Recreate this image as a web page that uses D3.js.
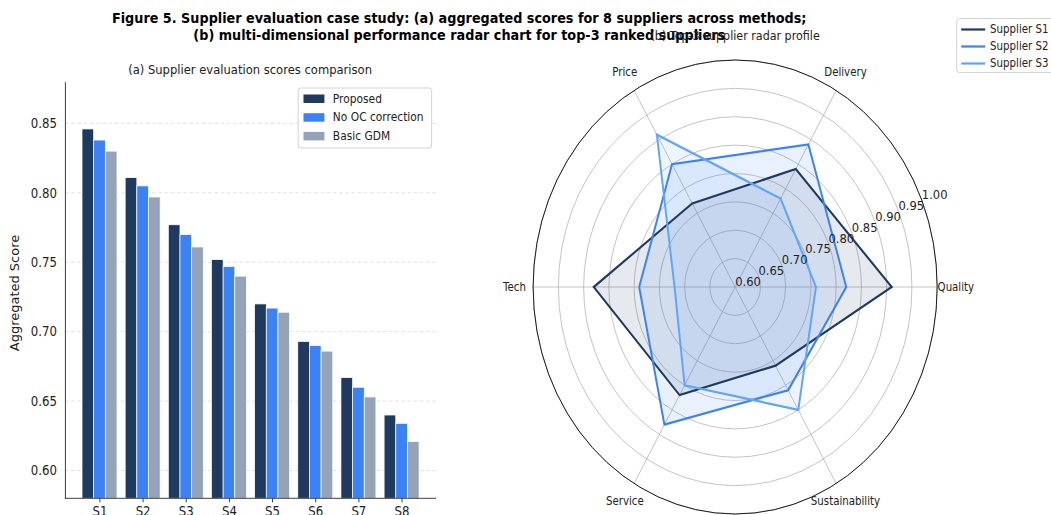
<!DOCTYPE html>
<html><head><meta charset="utf-8">
<script src="https://cdn.jsdelivr.net/npm/d3@7"></script>
<style>body{margin:0;background:#fff;} svg{display:block;font-family:"DejaVu Sans",sans-serif;}</style>
</head><body>
<script>
const suppliers = ["S1","S2","S3","S4","S5","S6","S7","S8"];
const methods = ["Proposed","No OC correction","Basic GDM"];
const proposed = [0.846,0.811,0.777,0.752,0.720,0.693,0.667,0.640];
const noOC     = [0.838,0.805,0.770,0.747,0.717,0.690,0.660,0.634];
const basicGDM = [0.830,0.797,0.761,0.740,0.714,0.686,0.653,0.621];
const yTicks = [0.60,0.65,0.70,0.75,0.80,0.85];

const criteria = ["Quality","Delivery","Price","Tech","Service","Sustainability"];
const supplierNames = ["Supplier S1","Supplier S2","Supplier S3"];
const s1 = [0.91,0.84,0.77,0.88,0.82,0.76];
const s2 = [0.82,0.89,0.85,0.79,0.88,0.81];
const s3 = [0.76,0.78,0.91,0.72,0.80,0.85];
const rTicks = [0.60,0.65,0.70,0.75,0.80,0.85,0.90,0.95,1.00];

const barColors = ["#1e3a5f","#3b82f6","#94a3b8"];
const radarColors = ["#1e3a5f","#3b82f6","#60a5fa"];

const W = 1051, H = 515, SX = 0.89;
const svg = d3.select("body").append("svg").attr("width",W).attr("height",H);
const root = svg.append("g").attr("transform",`scale(${SX},1)`);

// Title
root.append("text").attr("x",516).attr("y",23).attr("text-anchor","middle")
  .attr("font-size",14.4).attr("font-weight","bold")
  .text("Figure 5. Supplier evaluation case study: (a) aggregated scores for 8 suppliers across methods;");
root.append("text").attr("x",516).attr("y",40).attr("text-anchor","middle")
  .attr("font-size",14.4).attr("font-weight","bold")
  .text("(b) multi-dimensional performance radar chart for top-3 ranked suppliers");

// ---------- Bar chart ----------
const bx0 = 73, bx1 = 490, by0 = 498.3, by1 = 81.7;
const x = d3.scaleLinear().domain([-0.8,7.8]).range([bx0,bx1]);
const y = d3.scaleLinear().domain([0.58,0.88]).range([by0,by1]);
const bw = 0.27;
const barG = root.append("g");

// grid
barG.selectAll("line.grid").data(yTicks).join("line")
  .attr("x1",bx0).attr("x2",bx1).attr("y1",d=>y(d)).attr("y2",d=>y(d))
  .attr("stroke","#d9d9d9").attr("stroke-width",0.8).attr("stroke-dasharray","4,3");

const series = [proposed,noOC,basicGDM];
series.forEach((vals,k)=>{
  barG.selectAll(null).data(vals).join("rect")
    .attr("x",(d,i)=>x(i+(k-1)*bw-bw/2))
    .attr("width",x(bw)-x(0))
    .attr("y",d=>y(d))
    .attr("height",d=>by0-y(d))
    .attr("fill",barColors[k]).attr("stroke","#fff").attr("stroke-width",0.8);
});

// axes
const yAxis = d3.axisLeft(y).tickValues(yTicks).tickFormat(d3.format(".2f")).tickSize(0).tickPadding(9);
const gy = barG.append("g").attr("transform",`translate(${bx0},0)`).call(yAxis);
gy.select(".domain").attr("stroke","#333").attr("stroke-width",1);
gy.selectAll("text").attr("font-size",13.2).attr("fill","#222").attr("font-family","DejaVu Sans");

const xAxis = d3.axisBottom(x).tickValues(d3.range(8)).tickFormat(i=>suppliers[i]).tickSize(4).tickPadding(4);
const gx = barG.append("g").attr("transform",`translate(0,${by0})`).call(xAxis);
gx.select(".domain").attr("stroke","#333").attr("stroke-width",1).attr("d",`M${bx0},0H${bx1}`);
gx.selectAll(".tick line").attr("stroke","#333");
gx.selectAll("text").attr("font-size",13.2).attr("fill","#222").attr("font-family","DejaVu Sans");

barG.append("text").attr("transform",`translate(21,${(by0+by1)/2+3}) rotate(-90)`)
  .attr("text-anchor","middle").attr("font-size",13).attr("fill","#222").text("Aggregated Score");
barG.append("text").attr("x",281).attr("y",74).attr("text-anchor","middle")
  .attr("font-size",13).attr("fill","#222").text("(a) Supplier evaluation scores comparison");

// legend
const lg = barG.append("g");
lg.append("rect").attr("x",335).attr("y",88).attr("width",150).attr("height",60).attr("rx",3)
  .attr("fill","#fff").attr("fill-opacity",0.8).attr("stroke","#d0d0d0");
methods.forEach((m,k)=>{
  const yy = 98.5 + k*18.7;
  lg.append("rect").attr("x",341).attr("y",yy-4).attr("width",23.5).attr("height",8.5).attr("fill",barColors[k]);
  lg.append("text").attr("x",374).attr("y",yy+4.3).attr("font-size",12).attr("fill","#222").text(m);
});

// ---------- Radar ----------
const cx = 826, cy = 287, R = 227;
const r = d3.scaleLinear().domain([0.6,1.0]).range([0,R]);
const ang = d3.scaleLinear().domain([0,criteria.length]).range([0,2*Math.PI]); // ccw from east
const rg = root.append("g").attr("transform",`translate(${cx},${cy})`);

rg.selectAll("circle.ring").data(rTicks.filter(d=>d>0.6)).join("circle")
  .attr("r",d=>r(d)).attr("fill","none").attr("stroke","#b0b0b0").attr("stroke-width",0.8);
rg.selectAll("line.spoke").data(criteria).join("line")
  .attr("x1",0).attr("y1",0)
  .attr("x2",(d,i)=>R*Math.cos(ang(i))).attr("y2",(d,i)=>-R*Math.sin(ang(i)))
  .attr("stroke","#b0b0b0").attr("stroke-width",0.8);

const line = d3.lineRadial()
  .angle((d,i)=>Math.PI/2-ang(i))
  .radius(d=>r(d))
  .curve(d3.curveLinearClosed);
[s1,s2,s3].forEach((vals,k)=>{
  rg.append("path").attr("d",line(vals)).attr("fill",radarColors[k]).attr("fill-opacity",0.11).attr("stroke","none");
});
[s1,s2,s3].forEach((vals,k)=>{
  rg.append("path").attr("d",line(vals)).attr("fill","none").attr("stroke",radarColors[k])
    .attr("stroke-width",2.2).attr("stroke-linejoin","miter");
});
rg.append("circle").attr("r",R).attr("fill","none").attr("stroke","#111").attr("stroke-width",1);

// category labels
rg.selectAll("text.cat").data(criteria).join("text")
  .attr("x",(d,i)=>248*Math.cos(ang(i))).attr("y",(d,i)=>-248*Math.sin(ang(i)))
  .attr("text-anchor","middle").attr("dominant-baseline","central")
  .attr("font-size",11.5).attr("fill","#222").text(d=>d);

// radial labels
const la = 22.5*Math.PI/180;
rg.selectAll("text.rl").data(rTicks).join("text")
  .attr("x",d=>r(d)*Math.cos(la)).attr("y",d=>-r(d)*Math.sin(la)-1)
  .attr("font-size",13).attr("fill","#222").text(d=>d3.format(".2f")(d));

root.append("text").attr("x",826).attr("y",40).attr("text-anchor","middle")
  .attr("font-size",12.5).attr("fill","#222").text("(b) Top-3 supplier radar profile");

// radar legend
const rl = root.append("g");
rl.append("rect").attr("x",1075).attr("y",18.5).attr("width",112).attr("height",54).attr("rx",3)
  .attr("fill","#fff").attr("fill-opacity",0.8).attr("stroke","#d0d0d0");
supplierNames.forEach((s,k)=>{
  const yy = 29.5 + k*17;
  rl.append("line").attr("x1",1080).attr("x2",1107).attr("y1",yy).attr("y2",yy)
    .attr("stroke",radarColors[k]).attr("stroke-width",2.2);
  rl.append("text").attr("x",1112.5).attr("y",yy+4).attr("font-size",11.5).attr("fill","#222").text(s);
});
</script>
</body></html>
